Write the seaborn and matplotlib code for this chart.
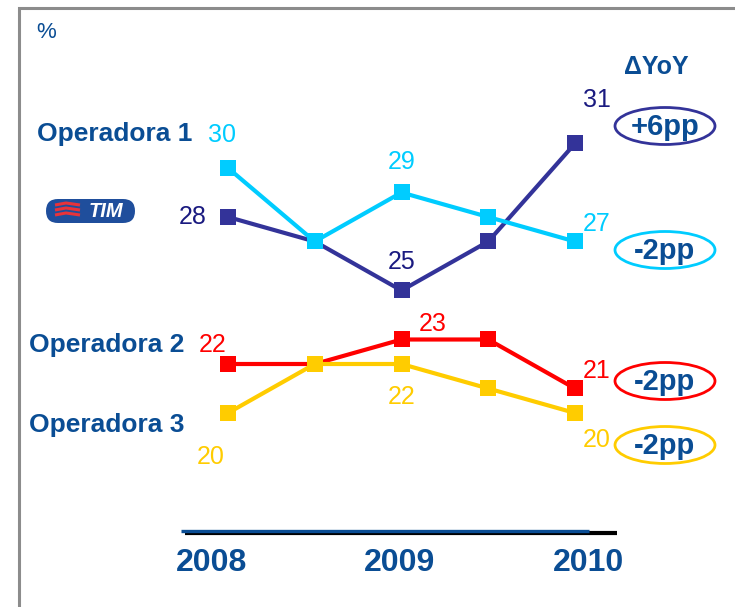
import pandas as pd
import matplotlib.pyplot as plt
import seaborn as sns
from matplotlib.patches import Ellipse, FancyBboxPatch

sns.set_style("white")
plt.rcParams['font.family'] = ['Liberation Sans', 'DejaVu Sans']

# -----------------------------
# Data
# -----------------------------
positions = [0, 1, 2, 3, 4]
years = ['2008', '2009', '2010']
year_pos = [0, 2, 4]

tim = [28, 27, 25, 27, 31]
op1 = [30, 27, 29, 28, 27]
op2 = [22, 22, 23, 23, 21]
op3 = [20, 22, 22, 21, 20]

series_names = ['TIM', 'Operadora 1', 'Operadora 2', 'Operadora 3']
deltas = ['+6pp', '-2pp', '-2pp', '-2pp']

df = pd.DataFrame({
    'pos': positions * 4,
    'value': tim + op1 + op2 + op3,
    'serie': [s for s in series_names for _ in positions],
})

colors = {'TIM': '#333399', 'Operadora 1': '#00CCFF',
          'Operadora 2': '#FF0000', 'Operadora 3': '#FFCC00'}
label_colors = {'TIM': '#1A1A80', 'Operadora 1': '#00CCFF',
                'Operadora 2': '#FF0000', 'Operadora 3': '#FFCC00'}
TEXT_BLUE = '#0A4D94'

# -----------------------------
# Figure: data axes spanning the whole canvas
# -----------------------------
fig = plt.figure(figsize=(7.35, 6.07), dpi=100)
ax = fig.add_axes([0, 0, 1, 1])
step = 86.75   # px per position
unit = 24.5    # px per percentage point
ax.set_xlim(-228 / step, (735 - 228) / step)
ax.set_ylim(30 - (607 - 168) / unit, 30 + 168 / unit)
ax.axis('off')

for name in series_names:
    sns.lineplot(data=df[df['serie'] == name], x='pos', y='value', ax=ax,
                 color=colors[name], linewidth=3, marker='s', markersize=11.5,
                 markeredgewidth=0, legend=False, zorder=3)

# value labels (offset in pixels from each point)
labels = [
    ('Operadora 1', 0, (-6, 33)), ('TIM', 0, (-35, 0)),
    ('Operadora 1', 2, (0, 30)), ('TIM', 2, (0, 28)),
    ('TIM', 4, (22, 43)), ('Operadora 1', 4, (22, 17)),
    ('Operadora 2', 0, (-15, 19)), ('Operadora 2', 2, (31, 15)),
    ('Operadora 2', 4, (22, 17)),
    ('Operadora 3', 0, (-17, -44)), ('Operadora 3', 2, (0, -33)),
    ('Operadora 3', 4, (22, -27)),
]
values = {'TIM': tim, 'Operadora 1': op1, 'Operadora 2': op2, 'Operadora 3': op3}
for name, i, off in labels:
    v = values[name][i]
    ax.annotate(str(v), xy=(positions[i], v), xytext=off,
                textcoords='offset pixels', ha='center', va='center',
                fontsize=18, color=label_colors[name])

# -----------------------------
# Overlay axes in pixel coordinates for decorations
# -----------------------------
ov = fig.add_axes([0, 0, 1, 1], facecolor='none')
ov.set_xlim(0, 735)
ov.set_ylim(607, 0)
ov.axis('off')

# grey frame
ov.plot([19.5, 19.5, 735], [607, 8, 8], color='#8C8C8C', linewidth=2.2,
        solid_joinstyle='miter', clip_on=False)

ov.text(46, 32, '%', fontsize=16, color=TEXT_BLUE, ha='center', va='center')
ov.text(656, 67, 'ΔYoY', fontsize=18, fontweight='bold', color=TEXT_BLUE,
        ha='center', va='center')

ov.text(37, 134, 'Operadora 1', fontsize=19, fontweight='bold', color=TEXT_BLUE,
        ha='left', va='center')
ov.text(29, 345, 'Operadora 2', fontsize=19, fontweight='bold', color=TEXT_BLUE,
        ha='left', va='center')
ov.text(29, 425, 'Operadora 3', fontsize=19, fontweight='bold', color=TEXT_BLUE,
        ha='left', va='center')

# TIM logo
ov.add_patch(FancyBboxPatch((46, 199), 89, 24,
                            boxstyle='round,pad=0,rounding_size=12',
                            facecolor='#1F4E9C', edgecolor='none'))
for dy in (205, 210, 215):
    ov.plot([55, 66, 80], [dy, dy - 2, dy], color='#E8333A', linewidth=2.2,
            solid_capstyle='butt')
ov.text(106, 211.5, 'TIM', fontsize=14.5, fontweight='bold', fontstyle='italic',
        color='white', ha='center', va='center')

# delta ellipses
ell_y = [126, 250, 381, 445]
for name, d, y in zip(series_names, deltas, ell_y):
    ov.add_patch(Ellipse((665, y), 100, 37, facecolor='none',
                         edgecolor=colors[name], linewidth=2))
    ov.text(665, y + 1, d, fontsize=21, fontweight='bold', color=TEXT_BLUE,
            ha='center', va='center')

# baseline
ov.plot([185, 617], [533, 533], color='black', linewidth=3,
        solid_capstyle='butt')
ov.plot([181, 589], [530.5, 530.5], color='#0A4D94', linewidth=2.4,
        solid_capstyle='butt')

# year labels
year_px = [212, 400, 589]
for yr, xp in zip(years, year_px):
    ov.text(xp, 563, yr, fontsize=23, fontweight='bold', color=TEXT_BLUE,
            ha='center', va='center')

fig.savefig('out.png', dpi=100)
plt.close(fig)
